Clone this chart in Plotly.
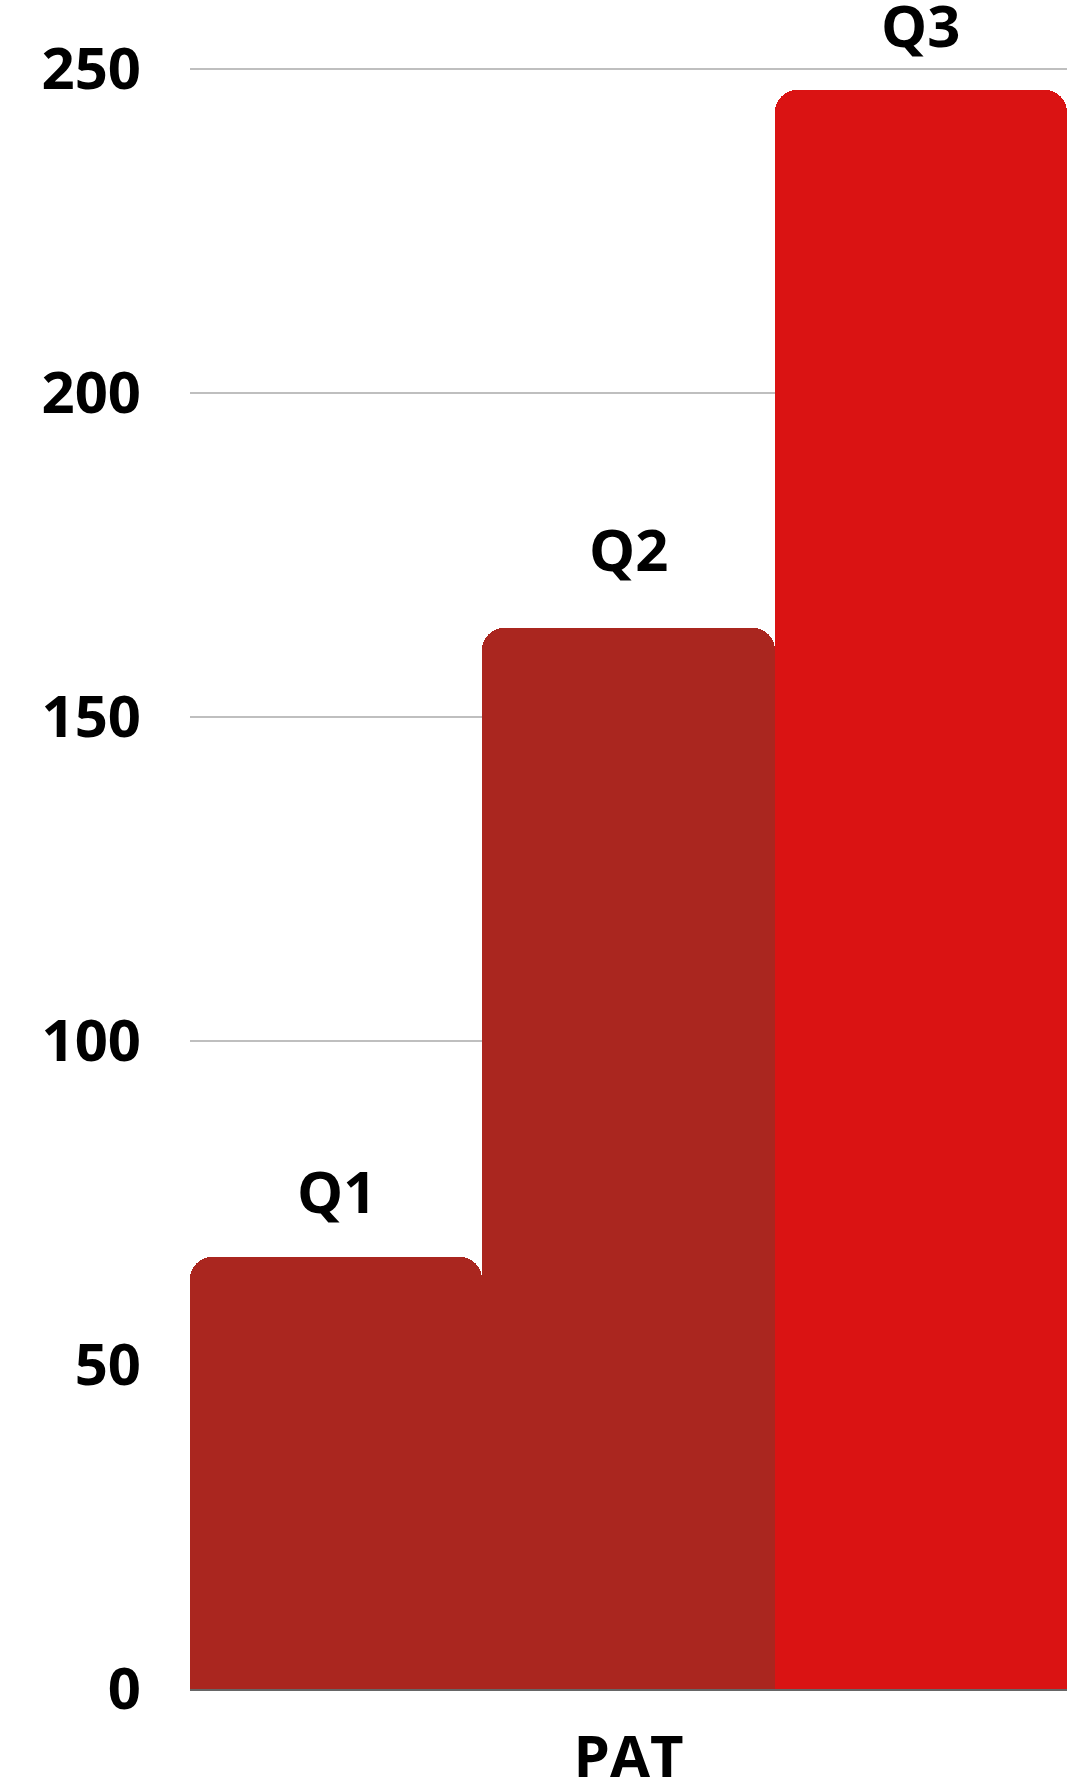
import plotly.graph_objects as go

category = ["PAT"]
series_names = ["Q1", "Q2", "Q3"]
series_values = [66.6, 163.7, 246.8]
series_colors = ["#AA261F", "#AA261F", "#DA1313"]
y_ticks = [0, 50, 100, 150, 200, 250]
label_shift_px = [67, 80, 65]

FONT = dict(family="Open Sans", size=58, color="#000000", weight=700)

fig = go.Figure()
n = len(series_names)
for i, (name, val, col) in enumerate(zip(series_names, series_values, series_colors)):
    fig.add_trace(go.Bar(
        x=category, y=[val], name=name,
        marker=dict(color=col, line=dict(width=0)),
        showlegend=False, cliponaxis=False,
    ))
    fig.add_annotation(
        x=(i - (n - 1) / 2) / n, y=val, xref="x", yref="y",
        text=name, showarrow=False, yanchor="middle", yshift=label_shift_px[i],
        font=FONT,
    )

fig.update_layout(
    width=1083, height=1787,
    margin=dict(l=190, r=16, t=67, b=98),
    paper_bgcolor="white", plot_bgcolor="white",
    barmode="group", bargap=0, bargroupgap=0,
    barcornerradius=22,
    font=FONT,
)
fig.update_xaxes(
    showgrid=False, showline=True, linecolor="#666666", linewidth=2,
    tickfont=FONT, ticks="", ticklabelstandoff=16, automargin=False,
)
fig.update_yaxes(
    range=[0, 250.3], tickvals=y_ticks, showgrid=True, gridcolor="#BFBFBF",
    gridwidth=2, zeroline=False, showline=False, tickfont=FONT,
    ticks="", ticklabelstandoff=48, automargin=False,
)

fig.write_html(
    "out.html",
    config={"displayModeBar": False},
    post_script="document.body.style.margin='0px';",
)
